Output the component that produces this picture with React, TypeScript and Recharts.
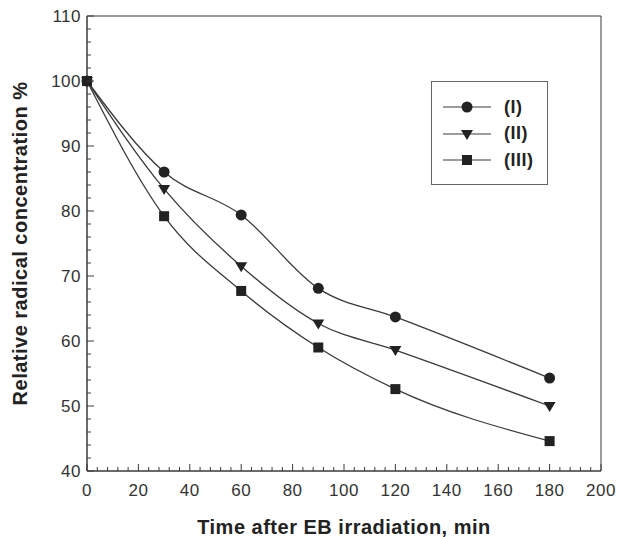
import React from 'react';
import {
  LineChart,
  Line,
  XAxis,
  YAxis,
  ReferenceArea,
} from 'recharts';

// time after irradiation (min)
const times = [0, 30, 60, 90, 120, 180];
const seriesI = [100, 86.0, 79.4, 68.1, 63.7, 54.3];
const seriesII = [100, 83.4, 71.5, 62.7, 58.6, 50.0];
const seriesIII = [100, 79.2, 67.7, 59.0, 52.6, 44.6];

const xMajor = [0, 20, 40, 60, 80, 100, 120, 140, 160, 180, 200];
const xTicks = Array.from({ length: 51 }, (_, i) => i * 4);
const yMajor = [40, 50, 60, 70, 80, 90, 100, 110];
const yTicks = Array.from({ length: 36 }, (_, i) => 40 + i * 2);

const data = times.map((t, i) => ({
  t,
  I: seriesI[i],
  II: seriesII[i],
  III: seriesIII[i],
}));

const INK = '#222';
const LINE = '#3a3a3a';
const FONT = '"Liberation Sans", Arial, sans-serif';

const XTick = (props: any) => {
  const { x, y, payload } = props;
  const major = xMajor.includes(payload.value);
  return (
    <g>
      <line x1={x} x2={x} y1={y} y2={y - (major ? 7 : 4)} stroke={LINE} strokeWidth={1} />
      {major && (
        <text x={x} y={y + 25} textAnchor="middle" fontSize={17} letterSpacing={0.5} fill="#333" fontFamily={FONT}>
          {payload.value}
        </text>
      )}
    </g>
  );
};

const YTick = (props: any) => {
  const { x, y, payload } = props;
  const major = yMajor.includes(payload.value);
  return (
    <g>
      <line x1={x} x2={x + (major ? 7 : 4)} y1={y} y2={y} stroke={LINE} strokeWidth={1} />
      {major && (
        <text x={x - 6} y={y + 6} textAnchor="end" fontSize={17} letterSpacing={0.5} fill="#333" fontFamily={FONT}>
          {payload.value}
        </text>
      )}
    </g>
  );
};

const Circle = ({ cx, cy }: any) =>
  cx == null ? null : <circle cx={cx} cy={cy} r={5.5} fill={INK} />;

const Tri = ({ cx, cy }: any) =>
  cx == null ? null : (
    <path d={`M${cx - 6},${cy - 4} L${cx + 6},${cy - 4} L${cx},${cy + 6} Z`} fill={INK} />
  );

const Sq = ({ cx, cy }: any) =>
  cx == null ? null : <rect x={cx - 5} y={cy - 5} width={10} height={10} fill={INK} />;

const legendRows = [
  { label: '(I)', shape: 'circle' },
  { label: '(II)', shape: 'tri' },
  { label: '(III)', shape: 'square' },
];

const LegendBox = () => (
  <div
    style={{
      position: 'absolute',
      left: 431,
      top: 81,
      border: '1px solid #666',
      width: 117,
      height: 104,
      boxSizing: 'border-box',
      paddingTop: 12,
      paddingLeft: 11,
      background: '#fff',
    }}
  >
    {legendRows.map((r) => (
      <div key={r.label} style={{ display: 'flex', alignItems: 'center', height: 26.5 }}>
        <svg width={50} height={14}>
          <line x1={0} x2={48} y1={7} y2={7} stroke={LINE} strokeWidth={1.2} />
          {r.shape === 'circle' && <circle cx={24} cy={7} r={5.5} fill={INK} />}
          {r.shape === 'tri' && <path d="M18,3 L30,3 L24,13 Z" fill={INK} />}
          {r.shape === 'square' && <rect x={19} y={2} width={10} height={10} fill={INK} />}
        </svg>
        <span
          style={{
            marginLeft: 11,
            fontFamily: FONT,
            fontWeight: 'bold',
            fontSize: 18,
            letterSpacing: 0.5,
            color: '#222',
          }}
        >
          {r.label}
        </span>
      </div>
    ))}
  </div>
);

export default function App() {
  return (
    <div style={{ position: 'absolute', left: 0, top: 0, width: 617, height: 537, background: '#fff' }}>
      <LineChart
        width={617}
        height={537}
        data={data}
        margin={{ top: 16, right: 16, left: 0, bottom: 0 }}
      >
        <XAxis
          dataKey="t"
          type="number"
          domain={[0, 200]}
          ticks={xTicks}
          interval={0}
          tickSize={0}
          tickMargin={0}
          tickLine={false}
          tick={<XTick />}
          axisLine={{ stroke: LINE }}
          height={66}
          label={{
            value: 'Time after EB irradiation, min',
            position: 'insideBottom',
            offset: 3,
            fontSize: 20,
            fontWeight: 'bold',
            letterSpacing: 0.5,
            fill: '#222',
            fontFamily: FONT,
          }}
        />
        <YAxis
          type="number"
          domain={[40, 110]}
          ticks={yTicks}
          interval={0}
          tickSize={0}
          tickMargin={0}
          tickLine={false}
          tick={<YTick />}
          axisLine={{ stroke: LINE }}
          width={87}
          label={{
            value: 'Relative radical concentration %',
            angle: -90,
            position: 'insideLeft',
            offset: 20,
            fontSize: 20,
            fontWeight: 'bold',
            letterSpacing: 0.5,
            fill: '#222',
            fontFamily: FONT,
            style: { textAnchor: 'middle' },
          }}
        />
        <ReferenceArea x1={0} x2={200} y1={40} y2={110} fill="none" stroke={LINE} strokeWidth={1} ifOverflow="visible" />
        <Line type="monotone" dataKey="I" stroke={LINE} strokeWidth={1.3} dot={<Circle />} activeDot={false} isAnimationActive={false} />
        <Line type="monotone" dataKey="II" stroke={LINE} strokeWidth={1.3} dot={<Tri />} activeDot={false} isAnimationActive={false} />
        <Line type="monotone" dataKey="III" stroke={LINE} strokeWidth={1.3} dot={<Sq />} activeDot={false} isAnimationActive={false} />
      </LineChart>
      <LegendBox />
    </div>
  );
}
